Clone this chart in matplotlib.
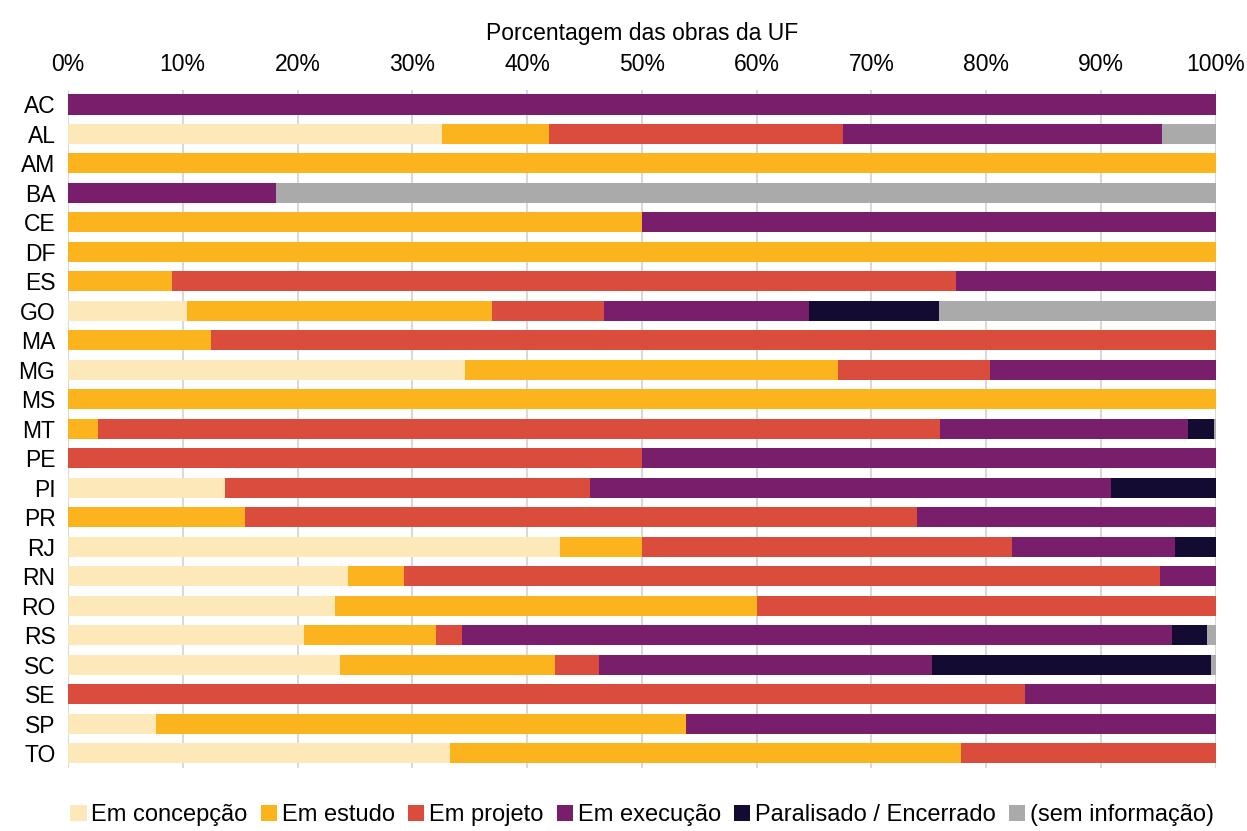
import matplotlib
matplotlib.use('Agg')
import matplotlib.pyplot as plt
import matplotlib.ticker as mtick
import numpy as np

plt.rcParams['font.family'] = ['Liberation Sans', 'DejaVu Sans']

# ── Data: % of works per state, by status ──────────────────────────────────
ufs = ['AC', 'AL', 'AM', 'BA', 'CE', 'DF', 'ES', 'GO', 'MA', 'MG', 'MS', 'MT',
       'PE', 'PI', 'PR', 'RJ', 'RN', 'RO', 'RS', 'SC', 'SE', 'SP', 'TO']

status = ['Em concepção', 'Em estudo', 'Em projeto', 'Em execução',
          'Paralisado / Encerrado', '(sem informação)']

concepcao  = [0, 32.6, 0, 0, 0, 0, 0, 10.4, 0, 34.6, 0, 0,
              0, 13.7, 0, 42.9, 24.4, 23.3, 20.6, 23.7, 0, 7.7, 33.3]
estudo     = [0, 9.3, 100, 0, 50, 100, 9.1, 26.5, 12.5, 32.5, 100, 2.6,
              0, 0, 15.4, 7.1, 4.9, 36.7, 11.5, 18.7, 0, 46.1, 44.5]
projeto    = [0, 25.6, 0, 0, 0, 0, 68.3, 9.8, 87.5, 13.2, 0, 73.4,
              50, 31.8, 58.6, 32.2, 65.8, 40.0, 2.2, 3.9, 83.4, 0, 22.2]
execucao   = [100, 27.8, 0, 18.1, 50, 0, 22.6, 17.9, 0, 19.7, 0, 21.6,
              50, 45.4, 26.0, 14.2, 4.9, 0, 61.9, 29.0, 16.6, 46.2, 0]
paralisado = [0, 0, 0, 0, 0, 0, 0, 11.3, 0, 0, 0, 2.2,
              0, 9.1, 0, 3.6, 0, 0, 3.0, 24.3, 0, 0, 0]
sem_info   = [0, 4.7, 0, 81.9, 0, 0, 0, 24.1, 0, 0, 0, 0.2,
              0, 0, 0, 0, 0, 0, 0.8, 0.4, 0, 0, 0]

colors = ['#FDE8BA', '#FBB41E', '#DA4C3C', '#791E6B', '#130B31', '#AAAAAA']

series = [concepcao, estudo, projeto, execucao, paralisado, sem_info]

FS = 16.5

fig = plt.figure(figsize=(12.47, 8.31), dpi=100)
ax = fig.add_axes([0.0545, 0.076, 0.9205, 0.816])

y = np.arange(len(ufs))
left = np.zeros(len(ufs))
for name, vals, col in zip(status, series, colors):
    vals = np.array(vals, dtype=float)
    ax.barh(y, vals, left=left, height=0.68, color=col, label=name,
            edgecolor='none', zorder=3)
    left += vals

ax.set_xlim(0, 100)
ax.set_ylim(len(ufs) - 0.5, -0.5)
ax.set_yticks(y)
ax.set_yticklabels(ufs)
ax.set_xticks(np.arange(0, 101, 10))
ax.xaxis.set_major_formatter(mtick.PercentFormatter(decimals=0))
ax.xaxis.tick_top()
ax.xaxis.set_label_position('top')
ax.set_xlabel('Porcentagem das obras da UF', fontsize=FS, labelpad=9)
ax.tick_params(axis='both', length=0, labelsize=FS)
ax.tick_params(axis='x', pad=10)
ax.tick_params(axis='y', pad=9)
ax.grid(axis='x', color='#D9D9D9', linewidth=1.5, zorder=0)
for s in ax.spines.values():
    s.set_visible(False)

fig.legend(loc='lower center', bbox_to_anchor=(0.515, -0.02), ncol=6,
           frameon=False, fontsize=FS + 0.5, handlelength=0.7, handleheight=0.7,
           handletextpad=0.2, columnspacing=0.55)

plt.savefig('out.png', dpi=100, facecolor='white')
plt.close()
